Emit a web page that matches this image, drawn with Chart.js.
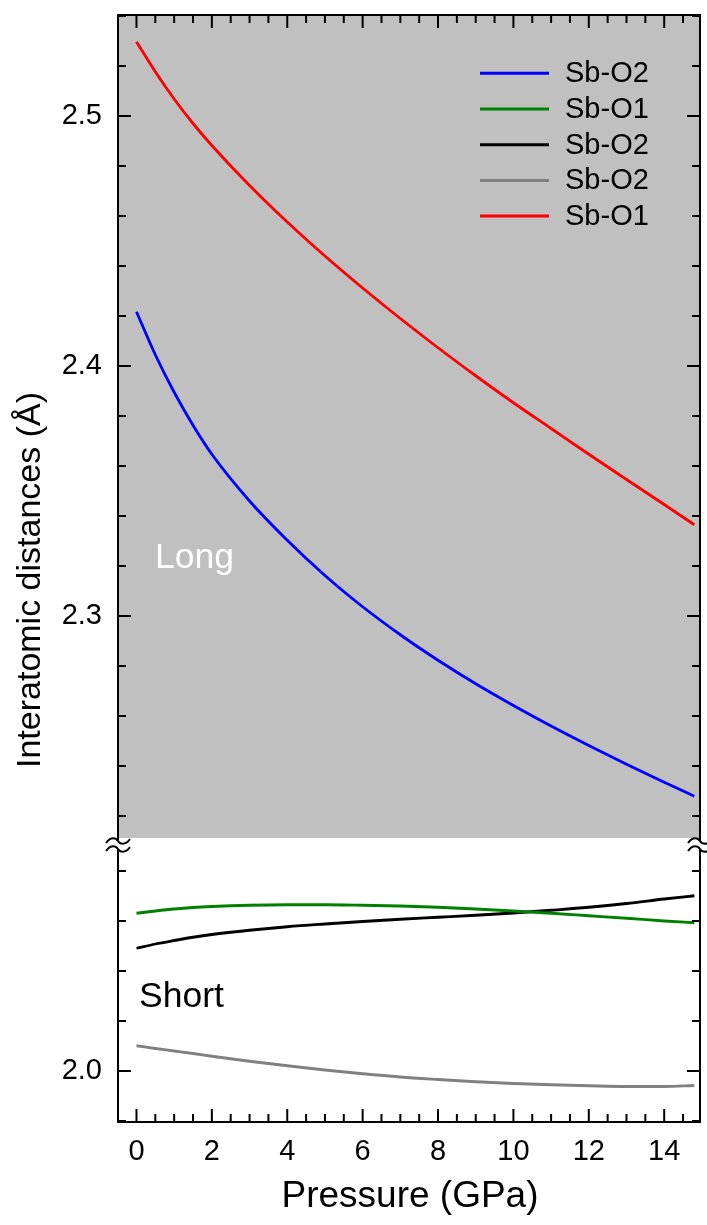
<!DOCTYPE html>
<html><head><meta charset="utf-8">
<script src="https://cdn.jsdelivr.net/npm/chart.js@4.4.1/dist/chart.umd.min.js"></script>
<style>html,body{margin:0;padding:0;background:#fff;} #wrap{width:707px;height:1225px;position:relative;}</style>
</head><body><div id="wrap"><canvas id="c" width="707" height="1225"></canvas></div>
<script>
// ---- data ----
const pressure   = [0, 0.5, 1, 1.5, 2, 3, 4, 5, 6, 7, 8, 9, 10, 11, 12, 13, 14, 14.8];
const sbO2Long   = [2.4217, 2.4045, 2.3895, 2.3763, 2.3647, 2.3460, 2.3303, 2.3162, 2.3037, 2.2925, 2.2823, 2.2729, 2.2642, 2.2560, 2.2482, 2.2407, 2.2335, 2.2279];
const sbO1Short  = [2.0631, 2.0640, 2.0648, 2.0654, 2.0658, 2.0663, 2.0665, 2.0665, 2.0663, 2.0660, 2.0655, 2.0648, 2.0640, 2.0631, 2.0621, 2.0611, 2.0600, 2.0593];
const sbO2ShortA = [2.0491, 2.0508, 2.0522, 2.0535, 2.0546, 2.0563, 2.0577, 2.0588, 2.0598, 2.0607, 2.0615, 2.0623, 2.0632, 2.0643, 2.0655, 2.0670, 2.0688, 2.0701];
const sbO2ShortB = [2.0101, 2.0090, 2.0080, 2.0070, 2.0059, 2.0039, 2.0021, 2.0004, 1.9989, 1.9976, 1.9966, 1.9957, 1.9950, 1.9945, 1.9941, 1.9938, 1.9938, 1.9942];
const sbO1Long   = [2.5297, 2.5177, 2.5068, 2.4970, 2.4882, 2.4722, 2.4576, 2.4440, 2.4312, 2.4190, 2.4073, 2.3961, 2.3853, 2.3750, 2.3647, 2.3546, 2.3446, 2.3365];
const seriesLabels = ['Sb-O2', 'Sb-O1', 'Sb-O2', 'Sb-O2', 'Sb-O1'];
const seriesColors = ['#0000ff', '#008000', '#000000', '#808080', '#ff0000'];
const seriesPanel  = ['yTop', 'yBot', 'yBot', 'yBot', 'yTop'];
const seriesValues = [sbO2Long, sbO1Short, sbO2ShortA, sbO2ShortB, sbO1Long];
const xTickLabels    = [0, 2, 4, 6, 8, 10, 12, 14];
const yTopTickLabels = [2.3, 2.4, 2.5];
const yBotTickLabels = [2.0];
const xTitle = 'Pressure (GPa)';
const yTitle = 'Interatomic distances (Å)';
const panelLabels = ['Long', 'Short'];

const FONT = '"Liberation Sans", Arial, Helvetica, sans-serif';
Chart.defaults.font.family = FONT;
Chart.defaults.color = '#000';

const datasets = seriesValues.map((vals, i) => ({
  label: seriesLabels[i],
  data: pressure.map((p, j) => ({x: p, y: vals[j]})),
  borderColor: seriesColors[i],
  backgroundColor: seriesColors[i],
  borderWidth: 2.8,
  pointRadius: 0,
  cubicInterpolationMode: 'monotone',
  fill: false,
  yAxisID: seriesPanel[i]
}));

function fixY(s) { s.width = 118; s.paddingTop = 0; s.paddingBottom = 0; }
function fixX(s) { s.height = 103; s.paddingLeft = 0; s.paddingRight = 0; }

const decor = {
  id: 'decor',
  beforeDatasetsDraw(chart) {
    const {ctx, chartArea: ca, scales} = chart;
    const yt = scales.yTop;
    ctx.save();
    ctx.fillStyle = '#c0c0c0';
    ctx.fillRect(ca.left, yt.top, ca.right - ca.left, yt.bottom - yt.top);
    ctx.restore();
  },
  afterDraw(chart) {
    const {ctx, chartArea: ca, scales} = chart;
    const yt = scales.yTop, yb = scales.yBot, x = scales.x;
    const J = yt.bottom;
    ctx.save();
    ctx.strokeStyle = '#000';
    ctx.lineWidth = 2;
    ctx.lineCap = 'butt';
    const seg = (x0, y0, x1, y1) => { ctx.beginPath(); ctx.moveTo(x0, y0); ctx.lineTo(x1, y1); ctx.stroke(); };
    // frame
    seg(ca.left - 1, ca.top, ca.right + 1, ca.top);
    seg(ca.left - 1, ca.bottom, ca.right + 1, ca.bottom);
    seg(ca.left, ca.top, ca.left, J + 3);
    seg(ca.left, J + 11, ca.left, ca.bottom);
    seg(ca.right, ca.top, ca.right, J + 3);
    seg(ca.right, J + 11, ca.right, ca.bottom);
    // break marks
    const tilde = (cx, cy) => {
      ctx.beginPath();
      ctx.moveTo(cx - 12, cy + 2);
      ctx.bezierCurveTo(cx - 7, cy - 5, cx - 2, cy - 3, cx, cy);
      ctx.bezierCurveTo(cx + 2, cy + 3, cx + 7, cy + 5, cx + 12, cy - 2);
      ctx.stroke();
    };
    [ca.left, ca.right].forEach(cx => { tilde(cx, J + 3); tilde(cx, J + 11); });
    // y ticks (inward, both sides)
    const yTicks = (s, step, major) => {
      const n0 = Math.ceil(s.min / step - 1e-9), n1 = Math.floor(s.max / step + 1e-9);
      for (let k = n0; k <= n1; k++) {
        const v = k * step;
        const isMajor = Math.abs(v / major - Math.round(v / major)) < 1e-6;
        const py = s.getPixelForValue(v);
        const len = isMajor ? 13 : 8;
        seg(ca.left, py, ca.left + len, py);
        seg(ca.right, py, ca.right - len, py);
      }
    };
    yTicks(yt, 0.02, 0.1);
    yTicks(yb, 0.02, 0.1);
    // x ticks (inward, top and bottom)
    const n0 = Math.ceil(x.min / 0.5 - 1e-9), n1 = Math.floor(x.max / 0.5 + 1e-9);
    for (let k = n0; k <= n1; k++) {
      const v = k * 0.5;
      const px = x.getPixelForValue(v);
      if (px < ca.left + 2) continue;
      const len = (Math.abs(v / 2 - Math.round(v / 2)) < 1e-6) ? 13 : 8;
      seg(px, ca.bottom, px, ca.bottom - len);
      seg(px, ca.top, px, ca.top + len);
    }
    // legend
    ctx.font = '29px ' + FONT;
    ctx.textBaseline = 'middle';
    ctx.textAlign = 'left';
    chart.data.datasets.forEach((d, i) => {
      const ly = 73.3 + 35.7 * i;
      ctx.strokeStyle = d.borderColor;
      ctx.lineWidth = 3;
      seg(480, ly, 549, ly);
      ctx.fillStyle = '#000';
      ctx.fillText(d.label, 565, ly + 1);
    });
    // panel labels
    ctx.font = '35.5px ' + FONT;
    ctx.textBaseline = 'alphabetic';
    ctx.fillStyle = '#ffffff';
    ctx.fillText(panelLabels[0], 155, 568);
    ctx.fillStyle = '#000';
    ctx.fillText(panelLabels[1], 139, 1007);
    // axis titles
    ctx.textAlign = 'center';
    ctx.textBaseline = 'middle';
    ctx.font = '37px ' + FONT;
    ctx.fillText(xTitle, 410, 1197);
    ctx.font = '34px ' + FONT;
    ctx.translate(31, 580);
    ctx.rotate(-Math.PI / 2);
    ctx.fillText(yTitle, 0, 0);
    ctx.restore();
  }
};

new Chart(document.getElementById('c'), {
  type: 'line',
  data: {datasets},
  options: {
    responsive: false,
    animation: false,
    layout: {padding: {top: 15, right: 7, left: 0, bottom: 0}},
    plugins: {legend: {display: false}, tooltip: {enabled: false}},
    scales: {
      x: {
        type: 'linear', position: 'bottom', min: -0.49, max: 14.95,
        grid: {display: false, drawTicks: false}, border: {display: false},
        afterBuildTicks: s => { s.ticks = xTickLabels.map(v => ({value: v})); },
        afterFit: fixX,
        ticks: {font: {size: 29}, color: '#000', padding: 13, maxRotation: 0, autoSkip: false}
      },
      yTop: {
        type: 'linear', position: 'left', stack: 'y', stackWeight: 823, weight: 2,
        min: 2.2112, max: 2.5404,
        grid: {display: false, drawTicks: false}, border: {display: false},
        afterBuildTicks: s => { s.ticks = yTopTickLabels.map(v => ({value: v})); },
        afterFit: fixY,
        ticks: {font: {size: 29}, color: '#000', padding: 16, callback: v => Number(v).toFixed(1)}
      },
      yBot: {
        type: 'linear', position: 'left', stack: 'y', stackWeight: 284, weight: 1,
        min: 1.9796, max: 2.0932,
        grid: {display: false, drawTicks: false}, border: {display: false},
        afterBuildTicks: s => { s.ticks = yBotTickLabels.map(v => ({value: v})); },
        afterFit: fixY,
        ticks: {font: {size: 29}, color: '#000', padding: 16, callback: v => Number(v).toFixed(1)}
      }
    }
  },
  plugins: [decor]
});
</script>
</body></html>
